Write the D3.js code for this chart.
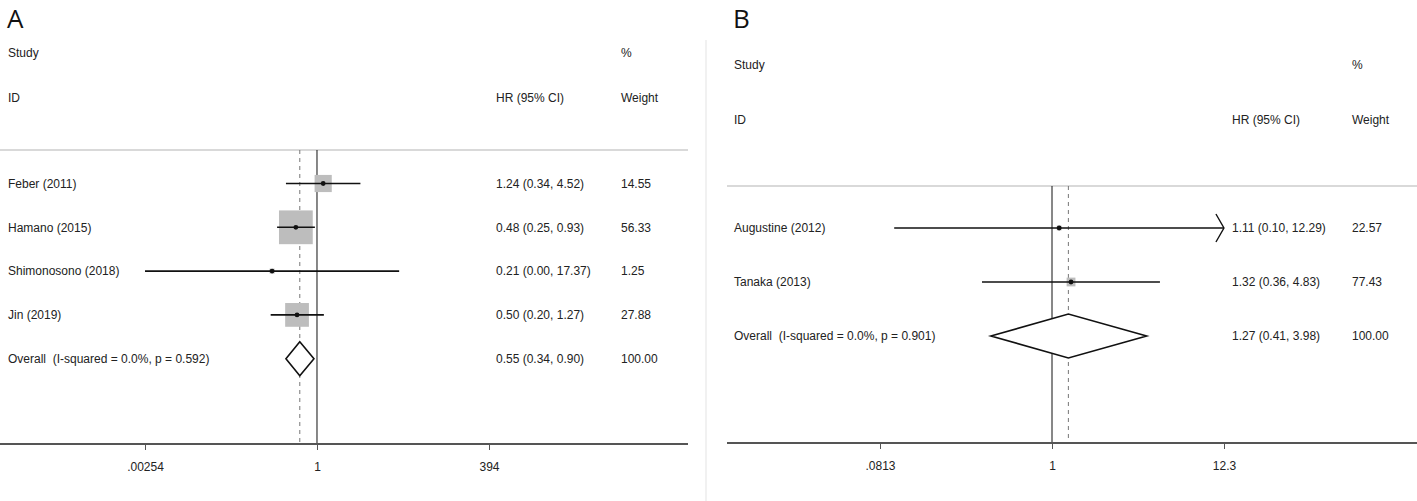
<!DOCTYPE html>
<html>
<head>
<meta charset="utf-8">
<script src="https://cdn.jsdelivr.net/npm/d3@7"></script>
<style>
  html, body { margin: 0; padding: 0; background: #fff; }
  svg { display: block; }
  text { font-family: "Liberation Sans", Arial, sans-serif; font-size: 12px; fill: #222; white-space: pre; }
  .panel-label { font-family: "Open Sans", "Liberation Sans", sans-serif; font-size: 26px; fill: #111; }
</style>
</head>
<body>
<svg id="chart" width="1417" height="501"></svg>
<script>
// ---------- Panel A data ----------
const studiesA = ["Feber (2011)", "Hamano (2015)", "Shimonosono (2018)", "Jin (2019)"];
const hrA      = [1.24, 0.48, 0.21, 0.50];
const lowA     = [0.34, 0.25, 0.00254, 0.20];
const highA    = [4.52, 0.93, 17.37, 1.27];
const ciTextA  = ["1.24 (0.34, 4.52)", "0.48 (0.25, 0.93)", "0.21 (0.00, 17.37)", "0.50 (0.20, 1.27)"];
const weightA  = [14.55, 56.33, 1.25, 27.88];
const overallA = [0.55, 0.34, 0.90];
const overallLabelA = "Overall  (I-squared = 0.0%, p = 0.592)";
const overallCiA = "0.55 (0.34, 0.90)";
const ticksA = [0.00254, 1, 394];
const tickLabelsA = [".00254", "1", "394"];

// ---------- Panel B data ----------
const studiesB = ["Augustine (2012)", "Tanaka (2013)"];
const hrB      = [1.11, 1.32];
const lowB     = [0.10, 0.36];
const highB    = [12.29, 4.83];
const ciTextB  = ["1.11 (0.10, 12.29)", "1.32 (0.36, 4.83)"];
const weightB  = [22.57, 77.43];
const overallB = [1.27, 0.41, 3.98];
const overallLabelB = "Overall  (I-squared = 0.0%, p = 0.901)";
const overallCiB = "1.27 (0.41, 3.98)";
const ticksB = [0.0813, 1, 12.3];
const tickLabelsB = [".0813", "1", "12.3"];

const svg = d3.select("#chart");

function drawPanel(cfg) {
  const g = svg.append("g");
  const x = d3.scaleLog().domain(cfg.domain).range(cfg.range);
  const n = cfg.studies.length;
  const y = d3.scalePoint().domain(d3.range(n + 1)).range([cfg.row0, cfg.row0 + cfg.rowStep * n]);

  // panel letter
  g.append("text").attr("class", "panel-label").attr("x", cfg.letterX).attr("y", 28).text(cfg.letter);

  // headers
  const hdr = [
    [cfg.labelX, cfg.hdr1Y, "Study"], [cfg.weightX, cfg.hdr1Y, "%"],
    [cfg.labelX, cfg.hdr2Y, "ID"], [cfg.ciX, cfg.hdr2Y, "HR (95% CI)"], [cfg.weightX, cfg.hdr2Y, "Weight"]
  ];
  g.selectAll("text.hdr").data(hdr).join("text").attr("class", "hdr")
    .attr("x", d => d[0]).attr("y", d => d[1]).attr("dy", "0.35em").text(d => d[2]);

  // separator
  g.append("line").attr("x1", cfg.sepX[0]).attr("x2", cfg.sepX[1])
    .attr("y1", cfg.sepY).attr("y2", cfg.sepY).attr("stroke", "#d9d9d9").attr("stroke-width", 2);

  // null line and overall dashed line
  g.append("line").attr("x1", x(1)).attr("x2", x(1)).attr("y1", cfg.sepY).attr("y2", cfg.axisY)
    .attr("stroke", "#111").attr("stroke-width", 1);
  g.append("line").attr("x1", x(cfg.overall[0])).attr("x2", x(cfg.overall[0]))
    .attr("y1", cfg.sepY).attr("y2", cfg.axisY)
    .attr("stroke", "#777").attr("stroke-width", 1).attr("stroke-dasharray", "4,4");

  // axis
  g.append("line").attr("x1", cfg.axisX[0]).attr("x2", cfg.axisX[1])
    .attr("y1", cfg.axisY).attr("y2", cfg.axisY).attr("stroke", "#555").attr("stroke-width", 2);
  const ax = g.append("g").attr("transform", `translate(0,${cfg.axisY})`)
    .call(d3.axisBottom(x).tickValues(cfg.ticks).tickFormat((d, i) => cfg.tickLabels[i]).tickSize(6).tickPadding(12));
  ax.select(".domain").remove();
  ax.selectAll(".tick line").attr("stroke", "#555");
  ax.selectAll(".tick text").attr("font-family", "Liberation Sans, Arial, sans-serif").attr("font-size", 12).attr("fill", "#222");

  const idx = d3.range(n);
  const [xmin, xmax] = cfg.range;

  // weight boxes
  g.selectAll("rect.box").data(idx).join("rect").attr("class", "box")
    .attr("x", i => x(cfg.hr[i]) - cfg.boxK * Math.sqrt(cfg.weight[i]) / 2)
    .attr("y", i => y(i) - cfg.boxK * Math.sqrt(cfg.weight[i]) / 2)
    .attr("width", i => cfg.boxK * Math.sqrt(cfg.weight[i]))
    .attr("height", i => cfg.boxK * Math.sqrt(cfg.weight[i]))
    .attr("fill", "#bdbdbd");

  // CI lines
  g.selectAll("line.ci").data(idx).join("line").attr("class", "ci")
    .attr("x1", i => Math.max(xmin, x(cfg.low[i])))
    .attr("x2", i => Math.min(xmax, x(cfg.high[i])))
    .attr("y1", i => y(i)).attr("y2", i => y(i))
    .attr("stroke", "#111").attr("stroke-width", 1.6);

  // arrows for clipped upper bounds
  idx.filter(i => x(cfg.high[i]) >= xmax - 1).forEach(i => {
    const tx = Math.min(xmax, x(cfg.high[i]));
    g.append("path").attr("d", `M${tx - 8},${y(i) - 14} L${tx},${y(i)} L${tx - 8},${y(i) + 14}`)
      .attr("fill", "none").attr("stroke", "#111").attr("stroke-width", 1.4);
  });

  // point estimate dots
  g.selectAll("circle.pt").data(idx).join("circle").attr("class", "pt")
    .attr("cx", i => x(cfg.hr[i])).attr("cy", i => y(i)).attr("r", 2.4).attr("fill", "#111");

  // overall diamond
  const oy = y(n);
  const [oe, ol, oh] = cfg.overall;
  g.append("path")
    .attr("d", `M${x(ol)},${oy} L${x(oe)},${oy - cfg.diamondH} L${x(oh)},${oy} L${x(oe)},${oy + cfg.diamondH} Z`)
    .attr("fill", "#fff").attr("stroke", "#111").attr("stroke-width", 1.6);

  // text columns
  const rows = idx.map(i => [cfg.studies[i], cfg.ciText[i], cfg.weight[i].toFixed(2), y(i)]);
  rows.push([cfg.overallLabel, cfg.overallCi, "100.00", oy]);
  g.selectAll("text.lab").data(rows).join("text").attr("class", "lab")
    .attr("x", cfg.labelX).attr("y", d => d[3]).attr("dy", "0.35em").text(d => d[0]);
  g.selectAll("text.ci").data(rows).join("text").attr("class", "ci")
    .attr("x", cfg.ciX).attr("y", d => d[3]).attr("dy", "0.35em").text(d => d[1]);
  g.selectAll("text.wt").data(rows).join("text").attr("class", "wt")
    .attr("x", cfg.weightX).attr("y", d => d[3]).attr("dy", "0.35em").text(d => d[2]);
}

drawPanel({
  letter: "A", letterX: 7,
  studies: studiesA, hr: hrA, low: lowA, high: highA, ciText: ciTextA, weight: weightA,
  overall: overallA, overallLabel: overallLabelA, overallCi: overallCiA,
  ticks: ticksA, tickLabels: tickLabelsA,
  domain: [ticksA[0], ticksA[2]], range: [145, 489],
  row0: 183.5, rowStep: 43.8,
  labelX: 8, ciX: 496, weightX: 621,
  hdr1Y: 53, hdr2Y: 98,
  sepY: 150, sepX: [0, 688],
  axisY: 444, axisX: [0, 688],
  boxK: 4.5, diamondH: 17
});

// panel B frame line
svg.append("line").attr("x1", 706).attr("x2", 706).attr("y1", 40).attr("y2", 501)
  .attr("stroke", "#ececec").attr("stroke-width", 1.5);

drawPanel({
  letter: "B", letterX: 733,
  studies: studiesB, hr: hrB, low: lowB, high: highB, ciText: ciTextB, weight: weightB,
  overall: overallB, overallLabel: overallLabelB, overallCi: overallCiB,
  ticks: ticksB, tickLabels: tickLabelsB,
  domain: [ticksB[0], ticksB[2]], range: [880, 1224],
  row0: 228, rowStep: 54,
  labelX: 734, ciX: 1232, weightX: 1352,
  hdr1Y: 65, hdr2Y: 120,
  sepY: 186, sepX: [727, 1417],
  axisY: 443, axisX: [727, 1417],
  boxK: 1.0, diamondH: 22
});
</script>
</body>
</html>
